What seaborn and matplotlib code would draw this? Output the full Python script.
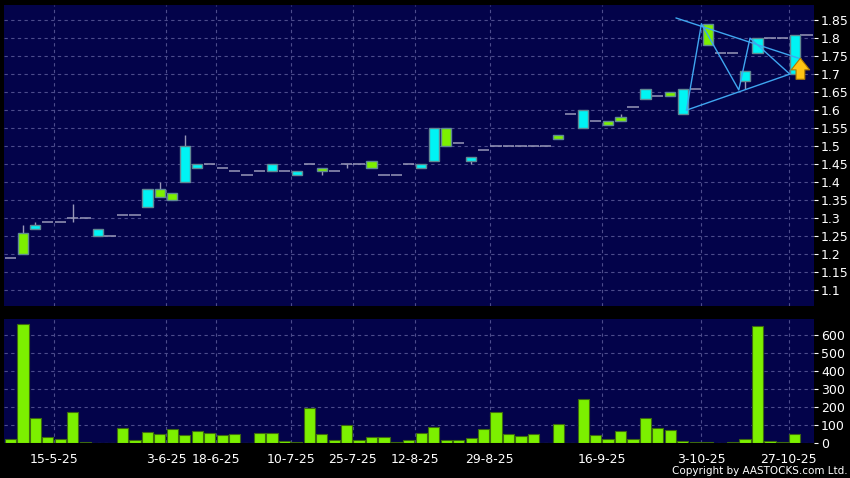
import numpy as np
import matplotlib
matplotlib.use("Agg")
import matplotlib.pyplot as plt
import seaborn as sns

# 每日 K 线 (一格一个交易日)
open_px = [1.19, 1.26, 1.27, 1.29, 1.29, 1.30, 1.30, 1.25, 1.25, 1.31,
           1.31, 1.33, 1.38, 1.37, 1.40, 1.44, 1.45, 1.44, 1.43, 1.42,
           1.43, 1.43, 1.43, 1.42, 1.45, 1.44, 1.43, 1.45, 1.45, 1.46,
           1.42, 1.42, 1.45, 1.44, 1.46, 1.55, 1.51, 1.46, 1.49, 1.50,
           1.50, 1.50, 1.50, 1.50, 1.53, 1.59, 1.55, 1.57, 1.57, 1.58,
           1.61, 1.63, 1.64, 1.65, 1.59, 1.66, 1.84, 1.76, 1.76, 1.68,
           1.76, 1.80, 1.80, 1.70]
close_px = [1.19, 1.20, 1.28, 1.29, 1.29, 1.30, 1.30, 1.27, 1.25, 1.31,
            1.31, 1.38, 1.36, 1.35, 1.50, 1.45, 1.45, 1.44, 1.43, 1.42,
            1.43, 1.45, 1.43, 1.43, 1.45, 1.43, 1.43, 1.45, 1.45, 1.44,
            1.42, 1.42, 1.45, 1.45, 1.55, 1.50, 1.51, 1.47, 1.49, 1.50,
            1.50, 1.50, 1.50, 1.50, 1.52, 1.59, 1.60, 1.57, 1.56, 1.57,
            1.61, 1.66, 1.64, 1.64, 1.66, 1.66, 1.78, 1.76, 1.76, 1.71,
            1.80, 1.80, 1.80, 1.81]
high_px = [1.19, 1.28, 1.29, 1.29, 1.29, 1.34, 1.30, 1.27, 1.25, 1.31,
           1.31, 1.38, 1.40, 1.37, 1.53, 1.45, 1.45, 1.44, 1.43, 1.42,
           1.43, 1.45, 1.43, 1.43, 1.45, 1.44, 1.43, 1.45, 1.45, 1.46,
           1.42, 1.42, 1.45, 1.45, 1.55, 1.55, 1.51, 1.47, 1.49, 1.50,
           1.50, 1.50, 1.50, 1.50, 1.53, 1.59, 1.60, 1.57, 1.57, 1.59,
           1.61, 1.66, 1.64, 1.65, 1.66, 1.66, 1.84, 1.76, 1.76, 1.71,
           1.80, 1.80, 1.80, 1.81]
low_px = [1.19, 1.20, 1.27, 1.29, 1.29, 1.29, 1.30, 1.25, 1.25, 1.31,
          1.31, 1.33, 1.36, 1.35, 1.40, 1.44, 1.45, 1.44, 1.43, 1.42,
          1.43, 1.43, 1.43, 1.42, 1.45, 1.42, 1.43, 1.44, 1.45, 1.44,
          1.42, 1.42, 1.45, 1.44, 1.46, 1.50, 1.51, 1.45, 1.49, 1.50,
          1.50, 1.50, 1.50, 1.50, 1.52, 1.59, 1.55, 1.57, 1.56, 1.57,
          1.61, 1.63, 1.64, 1.64, 1.59, 1.66, 1.78, 1.76, 1.76, 1.66,
          1.76, 1.80, 1.80, 1.70]
volume = [20, 660, 140, 35, 20, 175, 3, 1, 1, 85,
          15, 60, 52, 80, 42, 67, 58, 42, 48, 0,
          55, 55, 10, 3, 192, 48, 17, 99, 17, 34,
          36, 5, 17, 58, 90, 17, 17, 28, 78, 173,
          50, 40, 48, 0, 106, 0, 244, 42, 20, 65,
          25, 140, 85, 70, 13, 5, 3, 1, 5, 22,
          650, 13, 8, 50]

tick_pos = [3.5, 12.5, 16.5, 22.5, 27.5, 32.5, 38.5, 47.5, 55.5, 62.5]
tick_labels = ['15-5-25', '3-6-25', '18-6-25', '10-7-25', '25-7-25',
               '12-8-25', '29-8-25', '16-9-25', '3-10-25', '27-10-25']
price_ticks = [1.1, 1.15, 1.2, 1.25, 1.3, 1.35, 1.4, 1.45, 1.5, 1.55,
               1.6, 1.65, 1.7, 1.75, 1.8, 1.85]
vol_ticks = [0, 100, 200, 300, 400, 500, 600]

# 三角形整理 (趋势线)
zig_x = [54.3, 55.5, 58.5, 59.4, 62.6]
zig_y = [1.60, 1.84, 1.656, 1.80, 1.70]
upper_x = [53.45, 63.5]
upper_y = [1.856, 1.742]
lower_x = [54.3, 62.6]
lower_y = [1.60, 1.70]

BG = '#03034a'
GRID = '#4c4c8c'
UP = '#00F4F4'
DOWN = '#7CF000'
DASH = '#9898b8'

sns.set_style("dark", rc={'axes.facecolor': BG, 'figure.facecolor': 'black'})
plt.rcParams['font.family'] = ['DejaVu Sans']

fig = plt.figure(figsize=(8.5, 4.78), dpi=100)
ax1 = fig.add_axes([4/850, 1 - 306/478, 810/850, 301/478])
ax2 = fig.add_axes([4/850, 1 - 443/478, 810/850, 124/478])

x = np.arange(len(open_px))
o = np.array(open_px)
c = np.array(close_px)
h = np.array(high_px)
l = np.array(low_px)
body = o != c

# 影线
wick = h > l
ax1.vlines(x[wick], l[wick], h[wick], color=DASH, lw=1, zorder=2)
# 十字 / 无变动
ax1.hlines(c[~body], x[~body] - 0.45, x[~body] + 0.45, color=DASH, lw=1.1, zorder=2)
# 实体
cols = [UP if cc > oo else DOWN for oo, cc in zip(o[body], c[body])]
ax1.bar(x[body], np.abs(c - o)[body], bottom=np.minimum(o, c)[body], width=0.82,
        color=cols, edgecolor='#5f8a94', linewidth=1, zorder=3)

# 最新价
ax1.hlines(close_px[-1], x[-1] + 0.45, x[-1] + 1.45, color=DASH, lw=1.1, zorder=2)

# 趋势线
ax1.plot(zig_x, zig_y, color='#3fa6f0', lw=1, zorder=4)
ax1.plot(upper_x, upper_y, color='#3fa6f0', lw=1, zorder=4)
ax1.plot(lower_x, lower_y, color='#3fa6f0', lw=1, zorder=4)

ax1.annotate('', xy=(63.45, 1.752), xytext=(63.45, 1.678),
             arrowprops=dict(arrowstyle='simple,head_width=0.95,head_length=0.6,tail_width=0.45',
                             fc='#FFC414', ec='#B07A00', lw=0.8, mutation_scale=14), zorder=5)

ax1.set_xlim(-0.52, 64.54)
ax1.set_ylim(1.056, 1.892)
ax1.set_xticks(tick_pos)
ax1.set_xticklabels([])
ax1.set_yticks(price_ticks)
ax1.set_yticklabels(['{:g}'.format(t) for t in price_ticks])
ax1.yaxis.tick_right()

# 成交量
sns.barplot(x=x, y=volume, native_scale=True, color=DOWN, saturation=1,
            edgecolor='#3d6a10', linewidth=0.8, width=0.9, errorbar=None, ax=ax2)
ax2.set_xlim(-0.52, 64.54)
ax2.set_ylim(0, 690)
ax2.set_xticks(tick_pos)
ax2.set_xticklabels(tick_labels)
ax2.set_yticks(vol_ticks)
ax2.set_yticklabels([str(v) for v in vol_ticks])
ax2.yaxis.tick_right()
ax2.set_xlabel('')
ax2.set_ylabel('')

for ax in (ax1, ax2):
    ax.set_facecolor(BG)
    ax.grid(True, color=GRID, ls=(0, (3, 3)), lw=0.8)
    ax.set_axisbelow(True)
    for s in ax.spines.values():
        s.set_visible(False)
    ax.tick_params(axis='y', colors='white', labelsize=9, length=3, pad=2, right=True, left=False)
    ax.tick_params(axis='x', colors='white', labelsize=9, length=4, pad=3)
ax1.tick_params(axis='x', length=0)
ax2.tick_params(axis='x', color='#9090a0')

fig.text(0.997, 0.004, 'Copyright by AASTOCKS.com Ltd.', ha='right', va='bottom',
         color='white', fontsize=7.5)

fig.savefig('out.png', dpi=100, facecolor='black')
